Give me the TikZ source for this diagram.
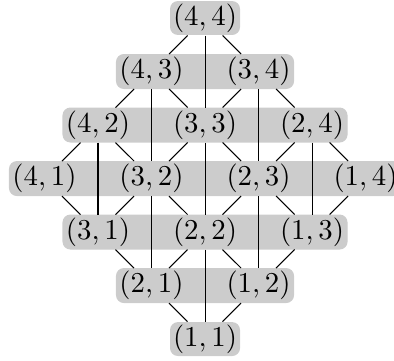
\documentclass[tikz,border=0pt]{standalone}
\usetikzlibrary{fit,backgrounds}

\tikzset{
  cell/.style={fill=black!20, rounded corners=3pt, inner sep=0pt,
    minimum width=26.6pt, minimum height=12.9pt,
    font=\fontsize{10.8}{13}\selectfont},
  band/.style={fill=black!20, rounded corners=3pt, inner sep=0pt},
}

\begin{document}
\begin{tikzpicture}[x=20.33pt, y=20.33pt]
  \useasboundingbox (-77.9pt,-130pt) rectangle (71.8pt,6.84pt);

  % Place the pairs (i,j), with (4,4) at the top
  \foreach \i in {1,...,4}
    \foreach \j in {1,...,4}
      \node[cell] (n\i\j) at ({\j-\i},{\i+\j-8}) {$(\i,\j)$};

  % Grey bands behind the rows
  \begin{scope}[on background layer]
    \node[band, fit=(n43)(n34)] (r7) {};
    \node[band, fit=(n42)(n24)] (r6) {};
    \node[band, fit=(n41)(n14)] (r5) {};
    \node[band, fit=(n31)(n13)] (r4) {};
    \node[band, fit=(n21)(n12)] (r3) {};
  \end{scope}

  % Diagonal edges
  \foreach \i/\k in {2/1,3/2,4/3}
    \foreach \j in {1,...,4}{
      \draw (n\i\j) -- (n\k\j);
      \draw (n\j\i) -- (n\j\k);
    }

  % Vertical edges
  \foreach \i/\k in {2/1,3/2,4/3}
    \foreach \j/\m in {2/1,3/2,4/3}
      \draw (n\i\j) -- (n\k\m);
\end{tikzpicture}
\end{document}
